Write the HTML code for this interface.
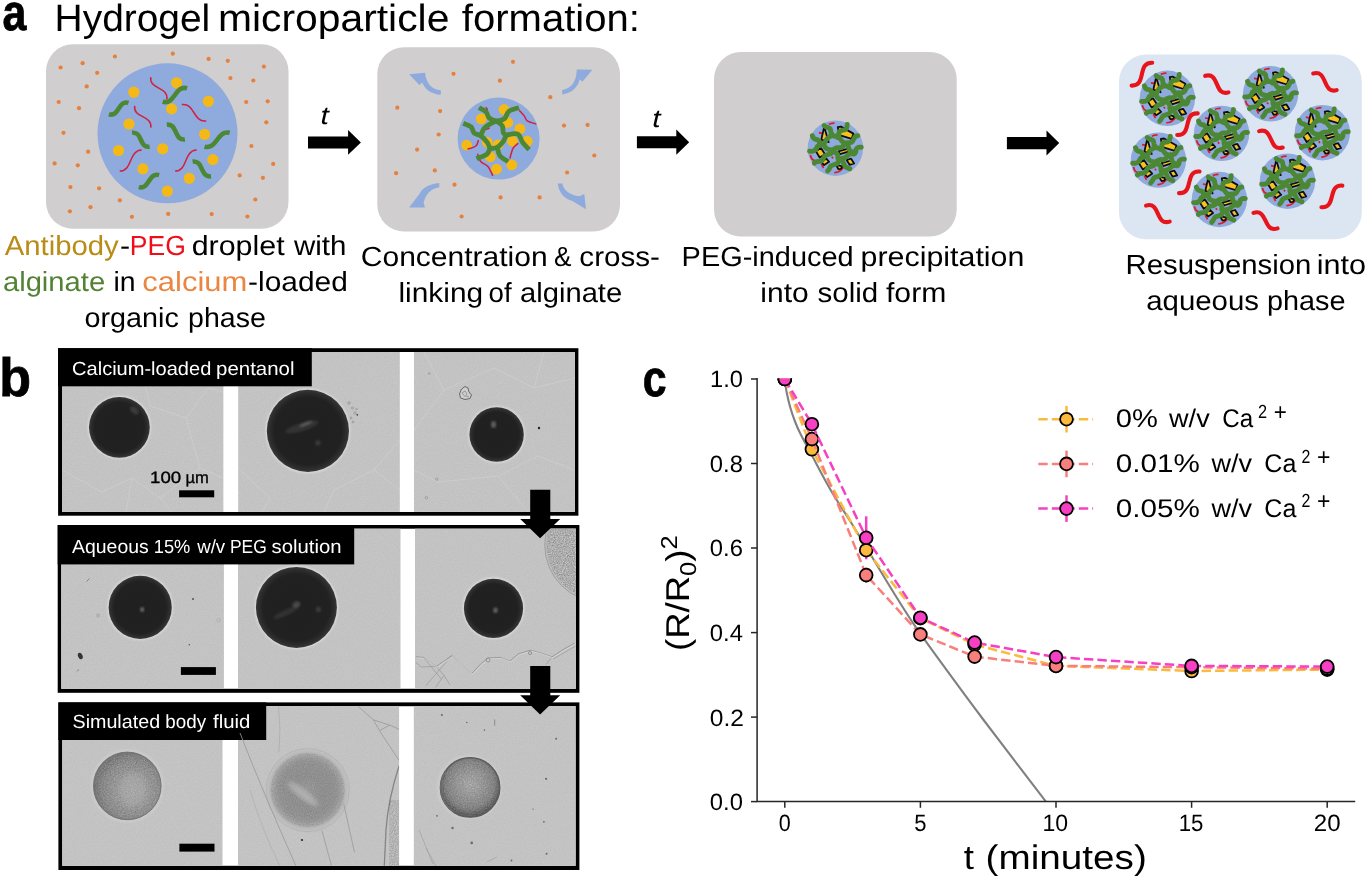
<!DOCTYPE html>
<html><head><meta charset="utf-8"><title>Figure</title>
<style>
html,body{margin:0;padding:0;background:#fff;overflow:hidden}
svg{display:block;opacity:0.999}
text{font-family:"Liberation Sans",sans-serif;white-space:pre;text-rendering:geometricPrecision}
</style></head>
<body>
<svg width="1367" height="878" viewBox="0 0 1367 878">
<defs>
<g id="particle">
<circle cx="0" cy="0" r="27.7" fill="#8faadc"/>
<path d="M-6.6,-23.9 C-6.1,-24.1 -4.5,-24.7 -3.6,-24.9 C-2.7,-25.1 -1.4,-25.1 -0.9,-25.1" fill="none" stroke="#e0192b" stroke-width="1.7"/>
<path d="M-16.5,-15.5 L-13.3,-14.9" fill="none" stroke="#e0192b" stroke-width="1.7"/>
<path d="M-25.1,6.9 C-24.8,7.6 -24.3,9.8 -23.3,10.9 C-22.3,12.0 -19.7,12.9 -19.0,13.3" fill="none" stroke="#e0192b" stroke-width="1.7"/>
<path d="M-14.1,15.7 L-11.9,19.8" fill="none" stroke="#e0192b" stroke-width="1.7"/>
<path d="M-1.1,24.6 C-0.3,24.4 2.4,24.0 4.0,23.1 C5.6,22.2 7.8,19.7 8.5,19.0" fill="none" stroke="#e0192b" stroke-width="1.7"/>
<path d="M-3.6,8.7 L-2.4,10.2" fill="none" stroke="#e0192b" stroke-width="1.7"/>
<polygon points="-11.2,-21.3 -14.1,-8.6 -6.8,-6.1" fill="#f7c21c" stroke="#0d0d1a" stroke-width="1.8" stroke-linejoin="round"/>
<polygon points="2.4,-21.1 5.6,-21.6 18.0,-14.6 16.3,-9.3 4.0,-13.0" fill="#f7c21c" stroke="#0d0d1a" stroke-width="1.8" stroke-linejoin="round"/>
<polygon points="-19.5,3.1 -14.5,-0.1 -10.4,6.0 -15.7,9.3" fill="#f7c21c" stroke="#0d0d1a" stroke-width="1.8" stroke-linejoin="round"/>
<polygon points="3.0,3.1 12.9,0.4 13.8,3.1 4.6,6.0" fill="#f7c21c" stroke="#0d0d1a" stroke-width="1.8" stroke-linejoin="round"/>
<polygon points="-14.4,13.3 -9.1,10.5 -6.3,13.6 -11.3,16.9" fill="#f7c21c" stroke="#0d0d1a" stroke-width="1.8" stroke-linejoin="round"/>
<polygon points="11.2,11.8 15.7,10.5 18.7,15.3 14.2,16.6" fill="#f7c21c" stroke="#0d0d1a" stroke-width="1.8" stroke-linejoin="round"/>
<polygon points="0.5,16.6 7.1,18.1 5.6,20.6 3.1,21.0" fill="#f7c21c" stroke="#0d0d1a" stroke-width="1.8" stroke-linejoin="round"/>
<path d="M-23.0,-12.4 C-22.8,-12.0 -22.4,-10.8 -21.9,-10.2 C-21.4,-9.6 -20.8,-9.2 -20.1,-8.9 C-19.4,-8.6 -18.3,-8.7 -17.6,-8.2 C-16.9,-7.7 -16.1,-6.8 -15.8,-5.9 C-15.5,-5.0 -15.2,-3.7 -15.6,-3.0 C-16.0,-2.3 -17.5,-2.3 -18.1,-1.7 C-18.7,-1.1 -18.8,0.1 -19.3,0.8 C-19.8,1.5 -20.5,2.1 -21.2,2.5 C-21.9,2.9 -22.7,3.0 -23.5,3.1 C-24.3,3.2 -25.5,3.1 -25.9,3.1" fill="none" stroke="#4c8733" stroke-width="4.9" stroke-linecap="round" stroke-linejoin="round"/>
<path d="M-11.3,-22.6 C-11.0,-22.4 -10.2,-21.7 -9.6,-21.4 C-9.0,-21.1 -8.2,-20.9 -7.5,-20.6 C-6.8,-20.3 -5.8,-20.2 -5.3,-19.5 C-4.8,-18.8 -4.8,-17.6 -4.6,-16.5 C-4.3,-15.4 -4.4,-13.7 -3.8,-13.0 C-3.2,-12.3 -1.9,-12.3 -0.9,-12.1 C0.1,-11.9 1.4,-12.1 2.3,-11.7 C3.2,-11.3 3.9,-10.4 4.5,-9.7 C5.2,-9.0 5.6,-8.0 6.2,-7.4 C6.8,-6.8 7.2,-6.3 7.9,-5.9 C8.6,-5.5 9.4,-5.3 10.1,-4.9 C10.8,-4.5 11.6,-4.2 12.1,-3.6 C12.6,-3.0 12.7,-2.2 13.0,-1.4 C13.3,-0.6 13.3,0.3 13.7,1.0 C14.0,1.7 14.5,2.3 15.1,2.8 C15.7,3.2 16.5,3.3 17.1,3.7 C17.7,4.1 18.4,4.9 18.6,5.1" fill="none" stroke="#4c8733" stroke-width="4.9" stroke-linecap="round" stroke-linejoin="round"/>
<path d="M11.8,-23.8 C11.7,-23.3 11.7,-21.7 11.3,-20.8 C10.9,-19.9 10.2,-18.9 9.5,-18.4 C8.8,-17.9 7.9,-18.2 7.2,-18.0 C6.5,-17.8 5.7,-17.7 5.1,-17.3 C4.5,-16.9 3.8,-16.2 3.5,-15.5 C3.2,-14.8 3.7,-13.6 3.4,-12.8 C3.1,-12.0 2.1,-11.2 1.8,-10.9" fill="none" stroke="#4c8733" stroke-width="4.9" stroke-linecap="round" stroke-linejoin="round"/>
<path d="M-21.1,14.9 C-20.8,14.7 -19.8,13.8 -19.0,13.5 C-18.2,13.2 -17.2,13.4 -16.3,13.2 C-15.4,13.0 -14.3,13.0 -13.6,12.5 C-12.9,12.0 -12.6,11.1 -12.1,10.4 C-11.6,9.7 -11.3,8.7 -10.8,8.1 C-10.3,7.5 -9.6,7.0 -8.9,6.7 C-8.2,6.4 -7.3,6.4 -6.5,6.1 C-5.7,5.8 -4.9,5.6 -4.3,5.1 C-3.7,4.6 -3.6,4.0 -3.1,3.3 C-2.6,2.6 -2.0,1.3 -1.2,0.7 C-0.4,0.1 0.7,-0.3 1.6,-0.5 C2.5,-0.7 3.5,-0.3 4.3,-0.4 C5.1,-0.5 5.9,-0.7 6.6,-1.1 C7.3,-1.5 7.9,-2.4 8.4,-3.0 C9.0,-3.6 9.3,-4.3 9.9,-4.7 C10.5,-5.1 11.2,-5.4 11.9,-5.5 C12.7,-5.6 13.6,-5.3 14.4,-5.5 C15.2,-5.7 16.3,-6.1 17.0,-6.8 C17.7,-7.5 18.0,-8.6 18.5,-9.4 C19.0,-10.2 19.2,-11.2 19.9,-11.7 C20.5,-12.2 22.0,-12.4 22.4,-12.5" fill="none" stroke="#4c8733" stroke-width="4.9" stroke-linecap="round" stroke-linejoin="round"/>
<path d="M-16.1,-3.6 C-15.7,-3.7 -14.6,-4.1 -13.8,-4.3 C-13.1,-4.5 -12.2,-4.6 -11.6,-5.0 C-11.0,-5.4 -10.7,-5.8 -10.2,-6.5 C-9.7,-7.2 -9.2,-8.4 -8.7,-9.1 C-8.1,-9.8 -7.6,-10.3 -6.9,-10.8 C-6.2,-11.3 -5.3,-11.5 -4.7,-12.0 C-4.1,-12.5 -3.5,-13.5 -3.3,-13.8" fill="none" stroke="#4c8733" stroke-width="4.9" stroke-linecap="round" stroke-linejoin="round"/>
<path d="M25.9,-0.9 C25.4,-0.9 24.0,-1.2 23.1,-0.9 C22.2,-0.6 21.1,0.2 20.7,0.9 C20.3,1.6 20.8,2.6 20.5,3.4 C20.2,4.2 19.5,5.4 18.8,5.7 C18.1,6.0 17.2,5.5 16.5,5.5 C15.8,5.5 15.1,5.5 14.4,5.7 C13.8,5.9 13.2,6.4 12.6,6.9 C12.0,7.4 11.4,8.2 10.8,8.7 C10.2,9.2 9.7,9.4 8.9,9.7 C8.1,10.0 7.0,10.0 6.2,10.3 C5.4,10.6 4.4,11.5 4.0,11.7" fill="none" stroke="#4c8733" stroke-width="4.9" stroke-linecap="round" stroke-linejoin="round"/>
<path d="M-7.8,22.8 C-7.6,22.5 -6.8,21.7 -6.4,21.1 C-6.0,20.5 -5.7,19.6 -5.3,19.0 C-4.9,18.4 -4.6,17.8 -3.9,17.4 C-3.2,17.0 -2.1,16.8 -1.1,16.4 C-0.2,16.0 1.1,15.8 1.8,15.3 C2.5,14.8 2.6,14.1 2.9,13.5 C3.2,12.9 3.6,12.5 3.5,11.9 C3.4,11.3 2.6,10.6 2.4,9.8 C2.2,9.1 2.7,8.2 2.5,7.4 C2.3,6.6 1.8,5.7 1.2,5.1 C0.6,4.5 -0.2,4.2 -0.9,3.8 C-1.6,3.4 -2.9,3.0 -3.3,2.9" fill="none" stroke="#4c8733" stroke-width="4.9" stroke-linecap="round" stroke-linejoin="round"/>
<path d="M3.8,11.9 C4.2,12.0 5.3,12.3 5.9,12.6 C6.5,12.9 7.2,13.4 7.6,13.9 C8.0,14.4 8.1,15.1 8.5,15.8 C8.9,16.5 9.3,17.6 9.9,18.2 C10.5,18.8 11.2,19.2 12.0,19.6 C12.8,20.0 14.0,20.4 14.4,20.6" fill="none" stroke="#4c8733" stroke-width="4.9" stroke-linecap="round" stroke-linejoin="round"/>
<path d="M-15.5,-3.7 C-15.1,-3.7 -13.8,-3.8 -13.0,-3.6 C-12.2,-3.4 -11.4,-3.0 -10.9,-2.5 C-10.4,-2.0 -10.4,-1.0 -9.9,-0.5 C-9.4,0.0 -8.7,0.5 -8.0,0.8 C-7.3,1.1 -6.6,1.4 -6.0,1.5 C-5.4,1.6 -5.0,1.4 -4.5,1.6 C-4.0,1.8 -3.5,2.7 -3.3,2.9" fill="none" stroke="#4c8733" stroke-width="4.9" stroke-linecap="round" stroke-linejoin="round"/>
</g>
<filter id="grain" x="0" y="0" width="100%" height="100%">
  <feTurbulence type="fractalNoise" baseFrequency="0.9" numOctaves="2" seed="3" result="n"/>
  <feColorMatrix in="n" type="matrix" values="0 0 0 0 0  0 0 0 0 0  0 0 0 0 0  0.9 0 0 -0.38 0" result="a"/>
  <feFlood flood-color="#000" result="f"/>
  <feComposite in="f" in2="a" operator="in" result="g"/>
  <feComposite in="g" in2="SourceGraphic" operator="in"/>
</filter>
<filter id="grain2" x="0" y="0" width="100%" height="100%">
  <feTurbulence type="fractalNoise" baseFrequency="0.7" numOctaves="3" seed="11" result="n"/>
  <feColorMatrix in="n" type="matrix" values="0 0 0 0 1  0 0 0 0 1  0 0 0 0 1  1.6 0 0 -0.62 0" result="a"/>
  <feComposite in="a" in2="SourceGraphic" operator="in"/>
</filter>
<filter id="blur1"><feGaussianBlur stdDeviation="1"/></filter>
<filter id="blur2"><feGaussianBlur stdDeviation="2.2"/></filter>
<filter id="blur4"><feGaussianBlur stdDeviation="4"/></filter>
<radialGradient id="drop" cx="0.5" cy="0.5" r="0.5">
  <stop offset="0" stop-color="#202020"/><stop offset="0.82" stop-color="#212121"/><stop offset="0.94" stop-color="#2e2e2e"/><stop offset="1" stop-color="#3a3a3a"/>
</radialGradient>
<radialGradient id="fuzzy" cx="0.5" cy="0.5" r="0.5">
  <stop offset="0" stop-color="#a2a2a2"/><stop offset="0.35" stop-color="#979797"/><stop offset="0.72" stop-color="#9a9a9a"/><stop offset="0.9" stop-color="#b0b0b0"/><stop offset="1" stop-color="#c3c3c3" stop-opacity="0"/>
</radialGradient>
<radialGradient id="tex1" cx="0.58" cy="0.56" r="0.55">
  <stop offset="0" stop-color="#a4a4a4"/><stop offset="0.45" stop-color="#989898"/><stop offset="0.8" stop-color="#868686"/><stop offset="1" stop-color="#747474"/>
</radialGradient>
<radialGradient id="tex3" cx="0.5" cy="0.45" r="0.5">
  <stop offset="0" stop-color="#aaaaaa"/><stop offset="0.45" stop-color="#959595"/><stop offset="0.82" stop-color="#7e7e7e"/><stop offset="0.95" stop-color="#646464"/><stop offset="1" stop-color="#5a5a5a"/>
</radialGradient>
<clipPath id="c23"><rect x="415" y="528.7" width="160.8" height="160.1"/></clipPath>

</defs>
<rect width="1367" height="878" fill="#fff"/>
<rect x="46" y="44.3" width="242.5" height="184.5" rx="27" fill="#d0cece"/>
<circle cx="60.6" cy="67.5" r="2.1" fill="#e5813c"/>
<circle cx="82.6" cy="63.2" r="2.1" fill="#e5813c"/>
<circle cx="114.9" cy="56.5" r="2.1" fill="#e5813c"/>
<circle cx="172.8" cy="53.7" r="2.1" fill="#e5813c"/>
<circle cx="208.6" cy="58.9" r="2.1" fill="#e5813c"/>
<circle cx="227.8" cy="60.8" r="2.1" fill="#e5813c"/>
<circle cx="263.9" cy="66.6" r="2.1" fill="#e5813c"/>
<circle cx="97.2" cy="72.8" r="2.1" fill="#e5813c"/>
<circle cx="230.4" cy="78.1" r="2.1" fill="#e5813c"/>
<circle cx="253.3" cy="80.5" r="2.1" fill="#e5813c"/>
<circle cx="86.7" cy="86.4" r="2.1" fill="#e5813c"/>
<circle cx="58.7" cy="102.0" r="2.1" fill="#e5813c"/>
<circle cx="79.0" cy="108.2" r="2.1" fill="#e5813c"/>
<circle cx="246.2" cy="102.0" r="2.1" fill="#e5813c"/>
<circle cx="267.7" cy="101.3" r="2.1" fill="#e5813c"/>
<circle cx="266.3" cy="122.3" r="2.1" fill="#e5813c"/>
<circle cx="63.5" cy="132.8" r="2.1" fill="#e5813c"/>
<circle cx="251.4" cy="146.0" r="2.1" fill="#e5813c"/>
<circle cx="88.1" cy="151.7" r="2.1" fill="#e5813c"/>
<circle cx="54.6" cy="163.4" r="2.1" fill="#e5813c"/>
<circle cx="77.8" cy="165.3" r="2.1" fill="#e5813c"/>
<circle cx="273.2" cy="163.9" r="2.1" fill="#e5813c"/>
<circle cx="239.7" cy="175.4" r="2.1" fill="#e5813c"/>
<circle cx="262.9" cy="177.8" r="2.1" fill="#e5813c"/>
<circle cx="70.4" cy="187.1" r="2.1" fill="#e5813c"/>
<circle cx="99.1" cy="188.3" r="2.1" fill="#e5813c"/>
<circle cx="119.9" cy="200.3" r="2.1" fill="#e5813c"/>
<circle cx="255.3" cy="199.5" r="2.1" fill="#e5813c"/>
<circle cx="90.5" cy="207.2" r="2.1" fill="#e5813c"/>
<circle cx="69.9" cy="211.3" r="2.1" fill="#e5813c"/>
<circle cx="131.9" cy="216.8" r="2.1" fill="#e5813c"/>
<circle cx="168.2" cy="213.9" r="2.1" fill="#e5813c"/>
<circle cx="211.7" cy="214.1" r="2.1" fill="#e5813c"/>
<circle cx="247.4" cy="216.5" r="2.1" fill="#e5813c"/>
<circle cx="167.5" cy="133.3" r="70" fill="#8faadc"/>
<circle cx="176.6" cy="82.8" r="5.6" fill="#f5b917"/>
<circle cx="133.8" cy="92.2" r="5.6" fill="#f5b917"/>
<circle cx="208.4" cy="101.3" r="5.6" fill="#f5b917"/>
<circle cx="171.6" cy="108.9" r="5.6" fill="#f5b917"/>
<circle cx="129.0" cy="124.0" r="5.6" fill="#f5b917"/>
<circle cx="204.6" cy="134.3" r="5.6" fill="#f5b917"/>
<circle cx="118.5" cy="150.5" r="5.6" fill="#f5b917"/>
<circle cx="162.7" cy="148.8" r="5.6" fill="#f5b917"/>
<circle cx="212.9" cy="159.6" r="5.6" fill="#f5b917"/>
<circle cx="142.9" cy="168.9" r="5.6" fill="#f5b917"/>
<circle cx="189.3" cy="178.3" r="5.6" fill="#f5b917"/>
<circle cx="167.3" cy="191.2" r="5.6" fill="#f5b917"/>
<path d="M108.9,114.2 C119.4,117.4 118.0,99.7 128.5,102.9" fill="none" stroke="#4c8733" stroke-width="4.6"/>
<path d="M162.7,101.7 C175.1,105.2 174.7,84.8 187.1,88.3" fill="none" stroke="#4c8733" stroke-width="4.6"/>
<path d="M166.8,124.7 C177.8,123.4 173.9,140.8 184.9,139.5" fill="none" stroke="#4c8733" stroke-width="4.6"/>
<path d="M132.1,132.8 C142.9,131.1 138.8,148.4 149.6,146.7" fill="none" stroke="#4c8733" stroke-width="4.6"/>
<path d="M204.6,146.7 C217.2,150.0 217.1,129.5 229.7,132.8" fill="none" stroke="#4c8733" stroke-width="4.6"/>
<path d="M192.6,161.5 C203.7,160.2 199.9,177.6 211.0,176.3" fill="none" stroke="#4c8733" stroke-width="4.6"/>
<path d="M138.8,187.1 C149.6,190.0 148.3,172.2 159.1,175.1" fill="none" stroke="#4c8733" stroke-width="4.6"/>
<path d="M150.8,77.1 C148.8,89.7 168.8,86.7 166.8,99.3" fill="none" stroke="#d3203f" stroke-width="1.5"/>
<path d="M134.7,105.8 C132.8,118.3 152.7,115.1 150.8,127.6" fill="none" stroke="#d3203f" stroke-width="1.5"/>
<path d="M181.8,104.6 C194.9,102.5 193.1,123.0 206.2,120.9" fill="none" stroke="#d3203f" stroke-width="1.5"/>
<path d="M119.7,171.1 C133.2,170.6 128.2,150.5 141.7,150.0" fill="none" stroke="#d3203f" stroke-width="1.5"/>
<path d="M175.1,171.1 C188.5,170.6 183.3,150.5 196.7,150.0" fill="none" stroke="#d3203f" stroke-width="1.5"/>
<rect x="377.3" y="47.2" width="242.7" height="184.4" rx="27" fill="#d0cece"/>
<circle cx="513.0" cy="61.8" r="2.1" fill="#e5813c"/>
<circle cx="453.5" cy="73.8" r="2.1" fill="#e5813c"/>
<circle cx="499.9" cy="80.7" r="2.1" fill="#e5813c"/>
<circle cx="550.3" cy="97.2" r="2.1" fill="#e5813c"/>
<circle cx="397.3" cy="107.7" r="2.1" fill="#e5813c"/>
<circle cx="440.1" cy="111.1" r="2.1" fill="#e5813c"/>
<circle cx="564.0" cy="125.6" r="2.1" fill="#e5813c"/>
<circle cx="587.6" cy="124.9" r="2.1" fill="#e5813c"/>
<circle cx="438.7" cy="134.5" r="2.1" fill="#e5813c"/>
<circle cx="417.1" cy="149.6" r="2.1" fill="#e5813c"/>
<circle cx="594.3" cy="155.5" r="2.1" fill="#e5813c"/>
<circle cx="434.8" cy="170.4" r="2.1" fill="#e5813c"/>
<circle cx="396.1" cy="173.2" r="2.1" fill="#e5813c"/>
<circle cx="567.1" cy="172.5" r="2.1" fill="#e5813c"/>
<circle cx="454.5" cy="184.7" r="2.1" fill="#e5813c"/>
<circle cx="500.6" cy="197.4" r="2.1" fill="#e5813c"/>
<circle cx="539.6" cy="197.4" r="2.1" fill="#e5813c"/>
<circle cx="461.6" cy="216.5" r="2.1" fill="#e5813c"/>
<path d="M441,90.4 C432.5,89.6 426.4,84.6 425,72.8 L409.1,74.2 L419.4,85 L422.2,82.4 C425.2,89.8 431.6,93.9 440.7,94.8 Z" fill="#8faadc"/>
<path d="M562.2,90 C570.8,88.6 576.4,82.6 576.8,69.5 L592.4,69.8 L582.4,81.8 L579.8,79.2 C577.4,88 571.2,93.2 562.2,94.4 Z" fill="#8faadc"/>
<path d="M439.3,183.1 C429.5,183.8 422.4,188 419.4,194 L409.1,207.6 L425,207.6 L423.6,202.8 C425.6,194.6 430.8,188.4 439.3,187.3 Z" fill="#8faadc"/>
<path d="M557.8,183.4 C558.6,192.6 564.6,198.8 572.4,200.9 L586,209.3 L584.3,193.9 L579.4,196.2 C570,195 563.4,190.3 562.4,183.4 Z" fill="#8faadc"/>
<circle cx="498.6" cy="138.6" r="41" fill="#8faadc"/>
<circle cx="504.0" cy="109.5" r="5.4" fill="#f5b917"/>
<circle cx="481.3" cy="118.9" r="5.4" fill="#f5b917"/>
<circle cx="507.8" cy="122.4" r="5.4" fill="#f5b917"/>
<circle cx="519.9" cy="128.9" r="5.4" fill="#f5b917"/>
<circle cx="466.6" cy="145.2" r="5.4" fill="#f5b917"/>
<circle cx="527.3" cy="141.2" r="5.4" fill="#f5b917"/>
<circle cx="487.3" cy="142.2" r="5.4" fill="#f5b917"/>
<circle cx="498.0" cy="144.8" r="5.4" fill="#f5b917"/>
<circle cx="512.4" cy="141.2" r="5.4" fill="#f5b917"/>
<circle cx="490.3" cy="156.8" r="5.4" fill="#f5b917"/>
<circle cx="511.8" cy="164.9" r="5.4" fill="#f5b917"/>
<circle cx="496.5" cy="169.1" r="5.4" fill="#f5b917"/>
<path d="M519.6,110.7 C520.4,111.6 523.1,114.4 524.4,116.1 C525.7,117.8 525.4,119.6 527.3,120.9 C529.2,122.2 534.3,123.4 535.7,123.9" fill="none" stroke="#d3203f" stroke-width="1.5" stroke-linecap="round"/>
<path d="M468.1,149.0 C469.4,148.5 474.2,147.4 475.9,146.0 C477.6,144.6 477.9,141.5 478.3,140.6" fill="none" stroke="#d3203f" stroke-width="1.5" stroke-linecap="round"/>
<path d="M517.8,143.6 C517.0,144.4 514.3,146.0 513.0,148.4 C511.7,150.8 510.5,156.4 510.0,158.0" fill="none" stroke="#d3203f" stroke-width="1.5" stroke-linecap="round"/>
<path d="M477.7,154.4 C478.2,155.6 479.0,159.6 480.7,161.6 C482.4,163.6 485.9,164.1 487.9,166.4 C489.9,168.7 491.8,173.8 492.6,175.3" fill="none" stroke="#d3203f" stroke-width="1.5" stroke-linecap="round"/>
<path d="M486.1,107.7 L487.3,109.5" fill="none" stroke="#d3203f" stroke-width="1.5" stroke-linecap="round"/>
<path d="M486.1,129.3 L489.1,128.3" fill="none" stroke="#d3203f" stroke-width="1.5" stroke-linecap="round"/>
<path d="M478.9,107.7 C480.1,108.4 484.4,110.2 486.1,111.9 C487.8,113.6 487.4,116.4 489.1,117.9 C490.8,119.4 493.6,120.8 496.2,120.9 C498.8,121.0 502.5,120.1 504.6,118.5 C506.7,116.9 506.4,113.1 508.8,111.3 C511.2,109.5 517.3,108.3 519.0,107.7" fill="none" stroke="#4c8733" stroke-width="4.8" stroke-linejoin="round"/>
<path d="M463.3,123.3 C464.6,123.9 469.3,125.3 471.1,126.9 C472.9,128.5 472.5,131.4 474.1,132.9 C475.7,134.4 478.5,134.2 480.7,135.8 C482.9,137.4 485.7,140.4 487.3,142.4 C488.9,144.4 488.6,147.0 490.3,147.8 C492.0,148.6 495.2,148.3 497.4,147.2 C499.6,146.1 501.8,143.2 503.4,141.2 C505.0,139.2 504.6,136.5 507.0,135.3 C509.4,134.1 515.2,132.9 517.8,134.1 C520.4,135.3 520.7,139.8 522.6,142.4 C524.5,145.0 528.0,148.4 529.1,149.6" fill="none" stroke="#4c8733" stroke-width="4.8" stroke-linejoin="round"/>
<path d="M496.2,120.9 C497.2,121.7 501.0,123.7 502.2,125.7 C503.4,127.7 502.6,131.3 503.4,132.9 C504.2,134.5 506.4,134.9 507.0,135.3" fill="none" stroke="#4c8733" stroke-width="4.8" stroke-linejoin="round"/>
<path d="M480.7,135.8 C481.3,134.5 482.5,130.2 484.3,128.1 C486.1,126.0 489.4,124.5 491.4,123.3 C493.4,122.1 495.4,121.3 496.2,120.9" fill="none" stroke="#4c8733" stroke-width="4.8" stroke-linejoin="round"/>
<path d="M490.3,147.8 C489.7,148.9 489.0,152.6 486.7,154.4 C484.4,156.2 478.2,157.9 476.5,158.6" fill="none" stroke="#4c8733" stroke-width="4.8" stroke-linejoin="round"/>
<path d="M497.4,147.2 C497.8,148.6 498.0,153.2 499.8,155.6 C501.6,158.0 506.8,160.6 508.2,161.6" fill="none" stroke="#4c8733" stroke-width="4.8" stroke-linejoin="round"/>
<rect x="714" y="52" width="242.7" height="184.6" rx="27" fill="#d0cece"/>
<use href="#particle" x="835.4" y="148.2"/>
<rect x="1119" y="54.6" width="242.8" height="184.6" rx="27" fill="#dce5f2"/>
<use href="#particle" x="1167.4" y="98.3"/>
<use href="#particle" x="1270.6" y="93.8"/>
<use href="#particle" x="1221.6" y="133.4"/>
<use href="#particle" x="1322.4" y="132.7"/>
<use href="#particle" x="1158.5" y="160.1"/>
<use href="#particle" x="1287.5" y="181.2"/>
<use href="#particle" x="1219.4" y="199.5"/>
<path d="M1131.6,85.6 C1147.3,86.1 1136.5,62.3 1152.2,62.8" fill="none" stroke="#e8141c" stroke-width="4.1" stroke-linecap="round"/>
<path d="M1205.2,75.8 C1219.9,71.5 1213.8,96.7 1228.5,92.4" fill="none" stroke="#e8141c" stroke-width="4.1" stroke-linecap="round"/>
<path d="M1313.2,73.5 C1327.9,69.2 1322.0,94.4 1336.7,90.1" fill="none" stroke="#e8141c" stroke-width="4.1" stroke-linecap="round"/>
<path d="M1177.2,135.0 C1192.7,136.1 1182.2,112.3 1197.7,113.4" fill="none" stroke="#e8141c" stroke-width="4.1" stroke-linecap="round"/>
<path d="M1259.2,131.1 C1273.8,126.7 1268.1,151.9 1282.7,147.5" fill="none" stroke="#e8141c" stroke-width="4.1" stroke-linecap="round"/>
<path d="M1179.0,193.1 C1194.5,194.2 1184.0,170.4 1199.5,171.5" fill="none" stroke="#e8141c" stroke-width="4.1" stroke-linecap="round"/>
<path d="M1146.0,205.6 C1160.5,200.9 1155.2,226.3 1169.7,221.6" fill="none" stroke="#e8141c" stroke-width="4.1" stroke-linecap="round"/>
<path d="M1253.5,212.9 C1267.9,207.9 1263.1,233.4 1277.5,228.4" fill="none" stroke="#e8141c" stroke-width="4.1" stroke-linecap="round"/>
<path d="M1321.4,207.2 C1336.9,208.4 1326.9,184.4 1342.4,185.6" fill="none" stroke="#e8141c" stroke-width="4.1" stroke-linecap="round"/>
<path d="M308,136.4H348.1V130.1L360.9,142.5L348.1,154.8V148.5H308Z" fill="#000"/>
<path d="M636.9,136.3H676.3V129.6L689.2,142.2L676.3,154.8V148.3H636.9Z" fill="#000"/>
<path d="M1006.9,136.9H1046.5V130.5L1059.2,143.1L1046.5,155.6V149.2H1006.9Z" fill="#000"/>
<text x="2.56" y="30.2" font-size="51" fill="#000" font-weight="bold" font-style="normal" textLength="23.91" lengthAdjust="spacingAndGlyphs" stroke="#000" stroke-width="0.8">a</text>
<text x="54.63" y="31" font-size="38" fill="#000" font-weight="normal" font-style="normal" textLength="155.57" lengthAdjust="spacingAndGlyphs" >Hydrogel</text>
<text x="217.95" y="31" font-size="38" fill="#000" font-weight="normal" font-style="normal" textLength="231.47" lengthAdjust="spacingAndGlyphs" >microparticle</text>
<text x="461.80" y="31" font-size="38" fill="#000" font-weight="normal" font-style="normal" textLength="178.10" lengthAdjust="spacingAndGlyphs" >formation:</text>
<text x="320.40" y="124.3" font-size="25" fill="#000" font-weight="normal" font-style="italic" textLength="8.33" lengthAdjust="spacingAndGlyphs" >t</text>
<text x="652.20" y="126.6" font-size="25" fill="#000" font-weight="normal" font-style="italic" textLength="8.33" lengthAdjust="spacingAndGlyphs" >t</text>
<text x="4.70" y="254.5" font-size="27.6" fill="#b98c17" font-weight="normal" font-style="normal" textLength="114.08" lengthAdjust="spacingAndGlyphs" >Antibody</text>
<text x="120.10" y="254.5" font-size="27.6" fill="#000" font-weight="normal" font-style="normal" textLength="10.11" lengthAdjust="spacingAndGlyphs" >-</text>
<text x="129.78" y="254.5" font-size="27.6" fill="#f00d18" font-weight="normal" font-style="normal" textLength="56.03" lengthAdjust="spacingAndGlyphs" >PEG</text>
<text x="191.70" y="254.5" font-size="27.6" fill="#000" font-weight="normal" font-style="normal" textLength="92.93" lengthAdjust="spacingAndGlyphs" >droplet</text>
<text x="293.97" y="254.5" font-size="27.6" fill="#000" font-weight="normal" font-style="normal" textLength="52.47" lengthAdjust="spacingAndGlyphs" >with</text>
<text x="2.94" y="290.8" font-size="27.6" fill="#548235" font-weight="normal" font-style="normal" textLength="102.22" lengthAdjust="spacingAndGlyphs" >alginate</text>
<text x="113.57" y="290.8" font-size="27.6" fill="#000" font-weight="normal" font-style="normal" textLength="22.12" lengthAdjust="spacingAndGlyphs" >in</text>
<text x="142.38" y="290.8" font-size="27.6" fill="#ea8640" font-weight="normal" font-style="normal" textLength="104.93" lengthAdjust="spacingAndGlyphs" >calcium</text>
<text x="248.12" y="290.8" font-size="27.6" fill="#000" font-weight="normal" font-style="normal" textLength="99.64" lengthAdjust="spacingAndGlyphs" >-loaded</text>
<text x="84.56" y="327.2" font-size="27.6" fill="#000" font-weight="normal" font-style="normal" textLength="94.33" lengthAdjust="spacingAndGlyphs" >organic</text>
<text x="188.07" y="327.2" font-size="27.6" fill="#000" font-weight="normal" font-style="normal" textLength="77.79" lengthAdjust="spacingAndGlyphs" >phase</text>
<text x="360.81" y="265.6" font-size="27.6" fill="#000" font-weight="normal" font-style="normal" textLength="186.85" lengthAdjust="spacingAndGlyphs" >Concentration</text>
<text x="554.10" y="265.6" font-size="27.6" fill="#000" font-weight="normal" font-style="normal" textLength="17.48" lengthAdjust="spacingAndGlyphs" >&amp;</text>
<text x="579.33" y="265.6" font-size="27.6" fill="#000" font-weight="normal" font-style="normal" textLength="80.65" lengthAdjust="spacingAndGlyphs" >cross-</text>
<text x="398.42" y="301.6" font-size="27.6" fill="#000" font-weight="normal" font-style="normal" textLength="84.74" lengthAdjust="spacingAndGlyphs" >linking</text>
<text x="488.60" y="301.6" font-size="27.6" fill="#000" font-weight="normal" font-style="normal" textLength="23.07" lengthAdjust="spacingAndGlyphs" >of</text>
<text x="520.14" y="301.6" font-size="27.6" fill="#000" font-weight="normal" font-style="normal" textLength="102.02" lengthAdjust="spacingAndGlyphs" >alginate</text>
<text x="681.60" y="266.1" font-size="27.6" fill="#000" font-weight="normal" font-style="normal" textLength="172.01" lengthAdjust="spacingAndGlyphs" >PEG-induced</text>
<text x="860.60" y="266.1" font-size="27.6" fill="#000" font-weight="normal" font-style="normal" textLength="163.78" lengthAdjust="spacingAndGlyphs" >precipitation</text>
<text x="760.31" y="302.2" font-size="27.6" fill="#000" font-weight="normal" font-style="normal" textLength="48.36" lengthAdjust="spacingAndGlyphs" >into</text>
<text x="817.50" y="302.2" font-size="27.6" fill="#000" font-weight="normal" font-style="normal" textLength="60.64" lengthAdjust="spacingAndGlyphs" >solid</text>
<text x="886.00" y="302.2" font-size="27.6" fill="#000" font-weight="normal" font-style="normal" textLength="60.28" lengthAdjust="spacingAndGlyphs" >form</text>
<text x="1125.57" y="273.7" font-size="27.6" fill="#000" font-weight="normal" font-style="normal" textLength="185.86" lengthAdjust="spacingAndGlyphs" >Resuspension</text>
<text x="1316.69" y="273.7" font-size="27.6" fill="#000" font-weight="normal" font-style="normal" textLength="49.29" lengthAdjust="spacingAndGlyphs" >into</text>
<text x="1146.23" y="309.8" font-size="27.6" fill="#000" font-weight="normal" font-style="normal" textLength="112.81" lengthAdjust="spacingAndGlyphs" >aqueous</text>
<text x="1266.96" y="309.8" font-size="27.6" fill="#000" font-weight="normal" font-style="normal" textLength="78.51" lengthAdjust="spacingAndGlyphs" >phase</text>
<text x="-0.69" y="396.2" font-size="54" fill="#000" font-weight="bold" font-style="normal" textLength="31.81" lengthAdjust="spacingAndGlyphs" stroke="#000" stroke-width="0.8">b</text>
<rect x="58.1" y="348.2" width="520.3" height="167.5" fill="#000"/>
<rect x="62" y="352" width="512.8" height="159.9" fill="#fff"/>
<rect x="62" y="352" width="161.6" height="159.9" fill="#c7c7c7"/><rect x="62" y="352" width="161.6" height="159.9" fill="#000" filter="url(#grain)" opacity="0.07"/>
<rect x="238.1" y="352" width="161.8" height="159.9" fill="#c7c7c7"/><rect x="238.1" y="352" width="161.8" height="159.9" fill="#000" filter="url(#grain)" opacity="0.07"/>
<rect x="413.8" y="352" width="161.0" height="159.9" fill="#c7c7c7"/><rect x="413.8" y="352" width="161.0" height="159.9" fill="#000" filter="url(#grain)" opacity="0.07"/>
<g fill="none" stroke="#d2d2d2" stroke-width="0.7" opacity="0.8"><path d="M62,470 l40,22 30,-14 28,20 40,-30 23,10"/><path d="M160,498 l12,14 M132,478 l-6,34 M200,468 l-14,-50 22,-30 15,4 M186,418 l-36,-12 -12,-50"/><path d="M240,470 l30,28 -8,14 M400,440 l-26,30 -40,20 -10,22 M374,470 l26,20"/><path d="M414,430 l30,-40 50,-22 40,20 41,-10 M444,390 l-20,-38 M534,388 l10,-36 M414,470 l24,12 60,-6 30,36 M498,476 l40,-20 36,14"/></g>
<rect x="223.6" y="352" width="14.5" height="159.9" fill="#fff"/><rect x="399.9" y="352" width="13.9" height="159.9" fill="#fff"/>
<rect x="58.1" y="348.2" width="253.7" height="38.1" fill="#000"/>
<circle cx="119.4" cy="427.3" r="31.5" fill="#dedede" filter="url(#blur1)"/><circle cx="119.4" cy="427.3" r="30.4" fill="url(#drop)"/><ellipse cx="134.4" cy="410.3" rx="5" ry="3" fill="#9a9a9a" opacity="0.22" transform="rotate(40 134.4 410.3)" filter="url(#blur1)"/>
<circle cx="307.9" cy="430.9" r="42.2" fill="#dedede" filter="url(#blur1)"/><circle cx="307.9" cy="430.9" r="41.1" fill="url(#drop)"/><ellipse cx="301.9" cy="426.9" rx="17" ry="4" fill="#9a9a9a" opacity="0.16" transform="rotate(-17 301.9 426.9)" filter="url(#blur1)"/><ellipse cx="305.9" cy="423.9" rx="7" ry="1.6" fill="#9a9a9a" opacity="0.4" transform="rotate(-22 305.9 423.9)" filter="url(#blur1)"/><ellipse cx="317.9" cy="442.9" rx="2.6" ry="2.6" fill="#9a9a9a" opacity="0.22" transform="rotate(0 317.9 442.9)" filter="url(#blur1)"/>
<circle cx="496.6" cy="434.5" r="28.3" fill="#dedede" filter="url(#blur1)"/><circle cx="496.6" cy="434.5" r="27.2" fill="url(#drop)"/><ellipse cx="493.6" cy="424.5" rx="2.5" ry="3.5" fill="#9a9a9a" opacity="0.5" transform="rotate(0 493.6 424.5)" filter="url(#blur1)"/>
<rect x="179.1" y="490.3" width="35.1" height="7" fill="#000"/>
<text x="150.06" y="482.8" font-size="16.4" fill="#000" font-weight="normal" font-style="normal" textLength="31.07" lengthAdjust="spacingAndGlyphs" stroke="#000" stroke-width="0.35">100</text>
<text x="185.49" y="482.8" font-size="16.4" fill="#000" font-weight="normal" font-style="normal" textLength="23.37" lengthAdjust="spacingAndGlyphs" stroke="#000" stroke-width="0.35">µm</text>
<text x="72.10" y="374.6" font-size="19" fill="#fff" font-weight="normal" font-style="normal" textLength="139.20" lengthAdjust="spacingAndGlyphs" >Calcium-loaded</text>
<text x="216.13" y="374.6" font-size="19" fill="#fff" font-weight="normal" font-style="normal" textLength="78.29" lengthAdjust="spacingAndGlyphs" >pentanol</text>
<g fill="none" stroke="#8a8a8a" stroke-width="0.6"><circle cx="349" cy="403" r="1.3"/><circle cx="352.5" cy="408" r="1.1"/><circle cx="355" cy="413" r="1.2"/><circle cx="351" cy="418" r="1"/><circle cx="356.5" cy="409" r="0.8"/><circle cx="353" cy="422" r="0.9"/></g><circle cx="357.3" cy="414.8" r="0.9" fill="#444"/>
<path d="M459.5,394 l2,-5 3.5,-2.5 3,1.5 1,4 2.5,3 -1.5,3.5 -5,1 -4.5,-1.5z" fill="#cdcdcd" stroke="#5e5e5e" stroke-width="0.9" stroke-linejoin="round"/><path d="M462,393 l3,-2 2,3 -2,2.5z M466,396 l3,1" fill="none" stroke="#777" stroke-width="0.6"/>
<g fill="none" stroke="#8c8c8c" stroke-width="0.6"><circle cx="436.8" cy="479.2" r="1.2"/><circle cx="426.4" cy="497.8" r="1.3"/><circle cx="429.1" cy="373.5" r="0.8"/></g>
<circle cx="539" cy="428" r="1.2" fill="#222"/>
<rect x="57.7" y="525" width="521.7" height="167.8" fill="#000"/>
<rect x="61.3" y="528.7" width="514.5" height="160.1" fill="#fff"/>
<rect x="61.3" y="528.7" width="162.6" height="160.1" fill="#c7c7c7"/><rect x="61.3" y="528.7" width="162.6" height="160.1" fill="#000" filter="url(#grain)" opacity="0.07"/>
<rect x="238" y="528.7" width="162.5" height="160.1" fill="#c7c7c7"/><rect x="238" y="528.7" width="162.5" height="160.1" fill="#000" filter="url(#grain)" opacity="0.07"/>
<rect x="415" y="528.7" width="160.8" height="160.1" fill="#c7c7c7"/><rect x="415" y="528.7" width="160.8" height="160.1" fill="#000" filter="url(#grain)" opacity="0.07"/>
<rect x="57.7" y="525" width="296.5" height="39.4" fill="#000"/>
<circle cx="140.2" cy="607.4" r="32.7" fill="#dedede" filter="url(#blur1)"/><circle cx="140.2" cy="607.4" r="31.6" fill="url(#drop)"/><ellipse cx="142.2" cy="609.4" rx="2" ry="2.5" fill="#9a9a9a" opacity="0.6" transform="rotate(0 142.2 609.4)" filter="url(#blur1)"/>
<circle cx="296.4" cy="607.4" r="41.6" fill="#dedede" filter="url(#blur1)"/><circle cx="296.4" cy="607.4" r="40.5" fill="url(#drop)"/><ellipse cx="296.4" cy="604.4" rx="4" ry="3" fill="#9a9a9a" opacity="0.32" transform="rotate(-20 296.4 604.4)" filter="url(#blur1)"/><ellipse cx="286.4" cy="612.4" rx="14" ry="3" fill="#9a9a9a" opacity="0.14" transform="rotate(-25 286.4 612.4)" filter="url(#blur1)"/><ellipse cx="318.4" cy="609.4" rx="2.5" ry="3" fill="#9a9a9a" opacity="0.22" transform="rotate(0 318.4 609.4)" filter="url(#blur1)"/>
<circle cx="493.5" cy="608.3" r="30.700000000000003" fill="#dedede" filter="url(#blur1)"/><circle cx="493.5" cy="608.3" r="29.6" fill="url(#drop)"/><ellipse cx="495.5" cy="610.3" rx="2.2" ry="2.8" fill="#9a9a9a" opacity="0.55" transform="rotate(0 495.5 610.3)" filter="url(#blur1)"/>
<g clip-path="url(#c23)"><circle cx="602.4" cy="544.9" r="57.7" fill="#bdbdbd" stroke="#a0a0a0" stroke-width="1"/><circle cx="602.4" cy="544.9" r="56" fill="#fff" filter="url(#grain2)" opacity="0.3"/><circle cx="602.4" cy="544.9" r="56" fill="#000" filter="url(#grain)" opacity="0.5"/></g>
<g clip-path="url(#c23)" fill="none" stroke="#909090" stroke-width="0.8"><path d="M415.8,656.8 L423.6,657.4 436.2,666.4 451.8,655.6 471.6,673.6 481.2,663.4 488.4,658 500.4,657.4 510,661 518.4,653.8 530.4,650.2 541.2,653.2 552,656.8 564,649 574.8,643"/><path d="M415.8,662.2 L421.2,667 436.2,666.4 444,675.4 450,685 M444,675.4 L435.6,687.4 M552,656.8 L546,664.6 M575.8,646 L553,659 M423.6,657.4 l18,22 M451.8,655.6 l-26,30" opacity="0.7"/><path d="M416.8,657.8 L424.6,658.4 437.2,667.4 452.8,656.6 472.6,674.6 482.2,664.4 489.4,659 501.4,658.4 511,662 519.4,654.8 531.4,651.2 542.2,654.2 553,657.8 565,650 575.8,644" stroke="#d8d8d8" stroke-width="0.7"/><circle cx="488" cy="660" r="2" stroke="#8a8a8a"/><circle cx="530" cy="653" r="1.6" stroke="#8a8a8a"/></g>
<ellipse cx="80.3" cy="656" rx="2.2" ry="3.4" fill="#333" transform="rotate(-25 80.3 656)"/>
<g stroke="#7c7c7c" stroke-width="0.9" fill="none"><path d="M86.5,581.5 l3,-3"/><path d="M76.8,671.4 l2.2,-2"/><circle cx="218.5" cy="620.4" r="1.8" stroke="#adadad"/></g><circle cx="98" cy="615.6" r="1.6" fill="#9a9a9a" filter="url(#blur1)"/><circle cx="193" cy="599" r="0.9" fill="#444"/><circle cx="189.3" cy="644.8" r="0.8" fill="#555"/>
<rect x="180.9" y="667.1" width="35" height="7.8" fill="#000"/>
<text x="72.00" y="552.9" font-size="19" fill="#fff" font-weight="normal" font-style="normal" textLength="76.71" lengthAdjust="spacingAndGlyphs" >Aqueous</text>
<text x="153.74" y="552.9" font-size="19" fill="#fff" font-weight="normal" font-style="normal" textLength="36.56" lengthAdjust="spacingAndGlyphs" >15%</text>
<text x="197.18" y="552.9" font-size="19" fill="#fff" font-weight="normal" font-style="normal" textLength="28.02" lengthAdjust="spacingAndGlyphs" >w/v</text>
<text x="229.98" y="552.9" font-size="19" fill="#fff" font-weight="normal" font-style="normal" textLength="36.83" lengthAdjust="spacingAndGlyphs" >PEG</text>
<text x="271.50" y="552.9" font-size="19" fill="#fff" font-weight="normal" font-style="normal" textLength="70.11" lengthAdjust="spacingAndGlyphs" >solution</text>
<rect x="58.4" y="702.4" width="521" height="167.6" fill="#000"/>
<rect x="62.3" y="706.2" width="513.3" height="159.6" fill="#fff"/>
<rect x="62.3" y="706.2" width="160.2" height="159.6" fill="#c7c7c7"/><rect x="62.3" y="706.2" width="160.2" height="159.6" fill="#000" filter="url(#grain)" opacity="0.07"/>
<rect x="238" y="706.2" width="161.1" height="159.6" fill="#c7c7c7"/><rect x="238" y="706.2" width="161.1" height="159.6" fill="#000" filter="url(#grain)" opacity="0.07"/>
<rect x="413.8" y="706.2" width="161.8" height="159.6" fill="#c7c7c7"/><rect x="413.8" y="706.2" width="161.8" height="159.6" fill="#000" filter="url(#grain)" opacity="0.07"/>
<rect x="58.4" y="702.4" width="207.8" height="37.6" fill="#000"/>
<circle cx="127.3" cy="785.9" r="35.3" fill="none" stroke="#d0d0d0" stroke-width="1.6" filter="url(#blur1)"/>
<circle cx="127.3" cy="785.9" r="33.8" fill="url(#tex1)" stroke="#6e6e6e" stroke-width="0.9"/>
<circle cx="127.3" cy="785.9" r="32.5" fill="#fff" filter="url(#grain2)" opacity="0.22"/>
<circle cx="127.3" cy="785.9" r="32.5" fill="#000" filter="url(#grain)" opacity="0.25"/>
<ellipse cx="133" cy="790" rx="13" ry="17" fill="#b4b4b4" opacity="0.35" filter="url(#blur2)"/>
<circle cx="307.7" cy="790.1" r="41" fill="url(#fuzzy)" filter="url(#blur2)"/>
<circle cx="307.7" cy="790.1" r="37" fill="#000" filter="url(#grain)" opacity="0.22"/>
<ellipse cx="303" cy="794" rx="19" ry="4.5" fill="#c2c2c2" opacity="0.6" transform="rotate(38 303 794)" filter="url(#blur2)"/>
<circle cx="307.7" cy="790.1" r="41.5" fill="none" stroke="#a8a8a8" stroke-width="0.7" opacity="0.7"/>
<circle cx="469.3" cy="787.4" r="31.2" fill="none" stroke="#d2d2d2" stroke-width="1.4" filter="url(#blur1)"/>
<circle cx="470.1" cy="787.4" r="29.8" fill="url(#tex3)" stroke="#5a5a5a" stroke-width="1.2"/>
<circle cx="470.1" cy="787.4" r="28.6" fill="#fff" filter="url(#grain2)" opacity="0.2"/>
<circle cx="470.1" cy="787.4" r="28.6" fill="#000" filter="url(#grain)" opacity="0.25"/>
<path d="M446,770 a30,30 0 0 0 8,42" fill="none" stroke="#777" stroke-width="0.8"/>
<clipPath id="c32"><rect x="238" y="706.2" width="161.1" height="159.6"/></clipPath>
<g clip-path="url(#c32)" fill="none" stroke="#999" stroke-width="0.8"><path d="M240,733 Q262,790 296,866"/><path d="M278.5,706 Q281,730 279,752" opacity="0.5"/><path d="M358.6,706.8 L373.4,719.8 379.4,730.6 399.1,760.4 M373.4,719.8 L389.7,725.2 399.1,729.2 M379.4,730.6 L389.7,725.2"/><path d="M399.1,765.8 Q388,800 386,830 L384.3,865.9" stroke="#858585" stroke-width="1.3"/><path d="M322,830.7 L331.5,865.9 M343.7,803.7 L354.5,852.4"/><path d="M250,790 Q262,830 280,866" opacity="0.45"/></g>
<rect x="389" y="800" width="10.1" height="65.8" fill="#000" filter="url(#grain)" opacity="0.3"/>
<g fill="#6a6a6a"><circle cx="441.9" cy="714.9" r="1"/><circle cx="466.8" cy="722.5" r="0.8"/><circle cx="484.4" cy="730.1" r="0.8"/><circle cx="556.1" cy="738.7" r="1"/><circle cx="546.1" cy="778.8" r="1.1"/><circle cx="543.9" cy="821.8" r="0.9"/><circle cx="533.1" cy="809.1" r="0.7"/><circle cx="437" cy="815.8" r="0.9"/><circle cx="452.5" cy="828" r="1.2"/><circle cx="471.7" cy="842.9" r="1.3"/><circle cx="546.6" cy="853.7" r="1"/><circle cx="511.5" cy="860.5" r="0.9"/></g><path d="M494.7,719.5 v6" stroke="#777" stroke-width="0.8"/><path d="M419,830 l14,34 M426,848 l10,18 M487,862 l10,-5" fill="none" stroke="#a2a2a2" stroke-width="0.7"/>
<circle cx="302" cy="840" r="1.1" fill="#222"/>
<rect x="179.4" y="843.7" width="35.1" height="7.9" fill="#000"/>
<text x="72.50" y="728.1" font-size="19" fill="#fff" font-weight="normal" font-style="normal" textLength="87.59" lengthAdjust="spacingAndGlyphs" >Simulated</text>
<text x="165.31" y="728.1" font-size="19" fill="#fff" font-weight="normal" font-style="normal" textLength="40.80" lengthAdjust="spacingAndGlyphs" >body</text>
<text x="213.00" y="728.1" font-size="19" fill="#fff" font-weight="normal" font-style="normal" textLength="37.41" lengthAdjust="spacingAndGlyphs" >fluid</text>
<path d="M530.2,489.8 H550.3 V519 H560.2 L540.1,538.3 L520.2,519 H530.2Z" fill="#000"/>
<path d="M530.2,666.0 H550.3 V695.2 H560.2 L540.1,714.5 L520.2,695.2 H530.2Z" fill="#000"/>
<text x="642.72" y="396.0" font-size="51" fill="#000" font-weight="bold" font-style="normal" textLength="23.83" lengthAdjust="spacingAndGlyphs" stroke="#000" stroke-width="0.8">c</text>
<clipPath id="axclip"><rect x="757.1" y="378.6" width="600" height="423"/></clipPath>
<path d="M784.8,379.0 C785.1,381.2 785.7,387.4 786.6,392 C787.5,396.6 788.6,401.6 790,406.5 C791.4,411.4 793.2,416.8 795,421.5 C796.8,426.2 798.0,429.1 800.8,434.6 C803.5,440.1 806.4,445.1 811.5,454.6 C816.6,464.1 825.1,480.5 831.5,491.5 C837.9,502.5 844.4,511.7 850,520.8 C855.6,529.9 858.2,534.2 865.4,546 C872.6,557.8 884.8,578.3 893,591.5 C901.2,604.7 906.9,614.0 914.6,625.4 C922.3,636.8 927.9,644.3 939.4,660.1 C950.9,675.9 965.9,696.4 983.6,720 C1001.4,743.6 1035.5,788.0 1045.9,801.6" fill="none" stroke="#808080" stroke-width="2.1"/>
<g clip-path="url(#axclip)">
<path d="M866.2,567.6 V582.6" stroke="#f97f7c" stroke-width="2.5"/>
<path d="M866.2,516.3 V559.3" stroke="#f63fc2" stroke-width="2.5"/>
<path d="M811.9,420.2 V428.2" stroke="#f63fc2" stroke-width="2.5"/>
<path d="M784.8,379.0 L811.9,449.3 L866.2,550.2 L920.4,618.2 L974.6,644.5 L1056.0,665.9 L1191.6,671.0 L1327.2,669.6" fill="none" stroke="#fbba3d" stroke-width="2.5" stroke-dasharray="9.4 4.1"/>
<circle cx="784.8" cy="379.0" r="6.4" fill="#fbba3d" stroke="#000" stroke-width="1.8"/>
<circle cx="811.9" cy="449.3" r="6.4" fill="#fbba3d" stroke="#000" stroke-width="1.8"/>
<circle cx="866.2" cy="550.2" r="6.4" fill="#fbba3d" stroke="#000" stroke-width="1.8"/>
<circle cx="920.4" cy="618.2" r="6.4" fill="#fbba3d" stroke="#000" stroke-width="1.8"/>
<circle cx="974.6" cy="644.5" r="6.4" fill="#fbba3d" stroke="#000" stroke-width="1.8"/>
<circle cx="1056.0" cy="665.9" r="6.4" fill="#fbba3d" stroke="#000" stroke-width="1.8"/>
<circle cx="1191.6" cy="671.0" r="6.4" fill="#fbba3d" stroke="#000" stroke-width="1.8"/>
<circle cx="1327.2" cy="669.6" r="6.4" fill="#fbba3d" stroke="#000" stroke-width="1.8"/>
<path d="M784.8,379.0 L811.9,439.1 L866.2,575.1 L920.4,634.4 L974.6,656.6 L1056.0,665.9 L1191.6,667.2 L1327.2,668.6" fill="none" stroke="#f97f7c" stroke-width="2.5" stroke-dasharray="9.4 4.1"/>
<circle cx="784.8" cy="379.0" r="6.4" fill="#f97f7c" stroke="#000" stroke-width="1.8"/>
<circle cx="811.9" cy="439.1" r="6.4" fill="#f97f7c" stroke="#000" stroke-width="1.8"/>
<circle cx="866.2" cy="575.1" r="6.4" fill="#f97f7c" stroke="#000" stroke-width="1.8"/>
<circle cx="920.4" cy="634.4" r="6.4" fill="#f97f7c" stroke="#000" stroke-width="1.8"/>
<circle cx="974.6" cy="656.6" r="6.4" fill="#f97f7c" stroke="#000" stroke-width="1.8"/>
<circle cx="1056.0" cy="665.9" r="6.4" fill="#f97f7c" stroke="#000" stroke-width="1.8"/>
<circle cx="1191.6" cy="667.2" r="6.4" fill="#f97f7c" stroke="#000" stroke-width="1.8"/>
<circle cx="1327.2" cy="668.6" r="6.4" fill="#f97f7c" stroke="#000" stroke-width="1.8"/>
<path d="M784.8,379.0 L811.9,424.2 L866.2,537.8 L920.4,617.7 L974.6,642.6 L1056.0,657.1 L1191.6,665.9 L1327.2,666.6" fill="none" stroke="#f63fc2" stroke-width="2.5" stroke-dasharray="9.4 4.1"/>
<circle cx="784.8" cy="379.0" r="6.4" fill="#f63fc2" stroke="#000" stroke-width="1.8"/>
<circle cx="811.9" cy="424.2" r="6.4" fill="#f63fc2" stroke="#000" stroke-width="1.8"/>
<circle cx="866.2" cy="537.8" r="6.4" fill="#f63fc2" stroke="#000" stroke-width="1.8"/>
<circle cx="920.4" cy="617.7" r="6.4" fill="#f63fc2" stroke="#000" stroke-width="1.8"/>
<circle cx="974.6" cy="642.6" r="6.4" fill="#f63fc2" stroke="#000" stroke-width="1.8"/>
<circle cx="1056.0" cy="657.1" r="6.4" fill="#f63fc2" stroke="#000" stroke-width="1.8"/>
<circle cx="1191.6" cy="665.9" r="6.4" fill="#f63fc2" stroke="#000" stroke-width="1.8"/>
<circle cx="1327.2" cy="666.6" r="6.4" fill="#f63fc2" stroke="#000" stroke-width="1.8"/>
</g>
<path d="M757.1,378 V801.6 H1355.2" fill="none" stroke="#262626" stroke-width="1.5"/>
<path d="M751,801.6 H757.1" stroke="#262626" stroke-width="1.5"/>
<text x="709.80" y="810.0" font-size="23.7" fill="#000" font-weight="normal" font-style="normal" textLength="33.07" lengthAdjust="spacingAndGlyphs" >0.0</text>
<path d="M751,717.1 H757.1" stroke="#262626" stroke-width="1.5"/>
<text x="709.80" y="725.5" font-size="23.7" fill="#000" font-weight="normal" font-style="normal" textLength="34.12" lengthAdjust="spacingAndGlyphs" >0.2</text>
<path d="M751,632.6 H757.1" stroke="#262626" stroke-width="1.5"/>
<text x="709.80" y="641.0" font-size="23.7" fill="#000" font-weight="normal" font-style="normal" textLength="33.07" lengthAdjust="spacingAndGlyphs" >0.4</text>
<path d="M751,548.0 H757.1" stroke="#262626" stroke-width="1.5"/>
<text x="709.80" y="556.4" font-size="23.7" fill="#000" font-weight="normal" font-style="normal" textLength="33.07" lengthAdjust="spacingAndGlyphs" >0.6</text>
<path d="M751,463.5 H757.1" stroke="#262626" stroke-width="1.5"/>
<text x="709.80" y="471.9" font-size="23.7" fill="#000" font-weight="normal" font-style="normal" textLength="33.07" lengthAdjust="spacingAndGlyphs" >0.8</text>
<path d="M751,379.0 H757.1" stroke="#262626" stroke-width="1.5"/>
<text x="710.00" y="387.4" font-size="23.7" fill="#000" font-weight="normal" font-style="normal" textLength="32.87" lengthAdjust="spacingAndGlyphs" >1.0</text>
<path d="M784.8,801.6 V807.8" stroke="#262626" stroke-width="1.5"/>
<text x="778.80" y="831.1" font-size="23.7" fill="#000" font-weight="normal" font-style="normal" textLength="11.96" lengthAdjust="spacingAndGlyphs" >0</text>
<path d="M920.4,801.6 V807.8" stroke="#262626" stroke-width="1.5"/>
<text x="914.30" y="831.1" font-size="23.7" fill="#000" font-weight="normal" font-style="normal" textLength="12.26" lengthAdjust="spacingAndGlyphs" >5</text>
<path d="M1056.0,801.6 V807.8" stroke="#262626" stroke-width="1.5"/>
<text x="1042.43" y="831.1" font-size="23.7" fill="#000" font-weight="normal" font-style="normal" textLength="25.64" lengthAdjust="spacingAndGlyphs" >10</text>
<path d="M1191.6,801.6 V807.8" stroke="#262626" stroke-width="1.5"/>
<text x="1178.66" y="831.1" font-size="23.7" fill="#000" font-weight="normal" font-style="normal" textLength="24.70" lengthAdjust="spacingAndGlyphs" >15</text>
<path d="M1327.2,801.6 V807.8" stroke="#262626" stroke-width="1.5"/>
<text x="1313.78" y="831.1" font-size="23.7" fill="#000" font-weight="normal" font-style="normal" textLength="26.79" lengthAdjust="spacingAndGlyphs" >20</text>
<text x="963.80" y="869.2" font-size="34" fill="#000" font-weight="normal" font-style="normal" textLength="10.20" lengthAdjust="spacingAndGlyphs" >t</text>
<text x="985.52" y="869.2" font-size="34" fill="#000" font-weight="normal" font-style="normal" textLength="161.28" lengthAdjust="spacingAndGlyphs" >(minutes)</text>
<g transform="translate(689,651) rotate(-90)"><text x="0" y="0" font-size="33" textLength="115.6" lengthAdjust="spacingAndGlyphs">(R/R<tspan font-size="23" dy="6.5">0</tspan><tspan dy="-6.5">)</tspan><tspan font-size="23" dy="-12.5">2</tspan></text></g>
<path d="M1038.3,419.2 H1093.1" stroke="#fbba3d" stroke-width="2.5" stroke-dasharray="9.4 4.1"/>
<path d="M1066.5,405.9 V432.5" stroke="#fbba3d" stroke-width="2.5"/>
<circle cx="1066.5" cy="419.2" r="6.4" fill="#fbba3d" stroke="#000" stroke-width="1.8"/>
<text x="1115.86" y="427.1" font-size="25.6" fill="#000" font-weight="normal" font-style="normal" textLength="42.10" lengthAdjust="spacingAndGlyphs" >0%</text>
<text x="1169.06" y="427.1" font-size="25.6" fill="#000" font-weight="normal" font-style="normal" textLength="40.63" lengthAdjust="spacingAndGlyphs" >w/v</text>
<text x="1222.35" y="427.1" font-size="25.6" fill="#000" font-weight="normal" font-style="normal" textLength="30.92" lengthAdjust="spacingAndGlyphs" >Ca</text>
<text x="1257.90" y="417.9" font-size="19" fill="#000" font-weight="normal" font-style="normal" textLength="9.09" lengthAdjust="spacingAndGlyphs" >2</text>
<text x="1273.67" y="419.9" font-size="24" fill="#000" font-weight="normal" font-style="normal" textLength="13.08" lengthAdjust="spacingAndGlyphs" >+</text>
<path d="M1038.3,463.9 H1093.1" stroke="#f97f7c" stroke-width="2.5" stroke-dasharray="9.4 4.1"/>
<path d="M1066.5,450.59999999999997 V477.2" stroke="#f97f7c" stroke-width="2.5"/>
<circle cx="1066.5" cy="463.9" r="6.4" fill="#f97f7c" stroke="#000" stroke-width="1.8"/>
<text x="1115.84" y="471.8" font-size="25.6" fill="#000" font-weight="normal" font-style="normal" textLength="84.03" lengthAdjust="spacingAndGlyphs" >0.01%</text>
<text x="1211.46" y="471.8" font-size="25.6" fill="#000" font-weight="normal" font-style="normal" textLength="40.63" lengthAdjust="spacingAndGlyphs" >w/v</text>
<text x="1264.32" y="471.8" font-size="25.6" fill="#000" font-weight="normal" font-style="normal" textLength="32.03" lengthAdjust="spacingAndGlyphs" >Ca</text>
<text x="1301.40" y="462.6" font-size="19" fill="#000" font-weight="normal" font-style="normal" textLength="8.88" lengthAdjust="spacingAndGlyphs" >2</text>
<text x="1317.04" y="464.6" font-size="24" fill="#000" font-weight="normal" font-style="normal" textLength="13.43" lengthAdjust="spacingAndGlyphs" >+</text>
<path d="M1038.3,508.6 H1093.1" stroke="#f63fc2" stroke-width="2.5" stroke-dasharray="9.4 4.1"/>
<path d="M1066.5,495.3 V521.9" stroke="#f63fc2" stroke-width="2.5"/>
<circle cx="1066.5" cy="508.6" r="6.4" fill="#f63fc2" stroke="#000" stroke-width="1.8"/>
<text x="1115.84" y="516.5" font-size="25.6" fill="#000" font-weight="normal" font-style="normal" textLength="84.03" lengthAdjust="spacingAndGlyphs" >0.05%</text>
<text x="1211.46" y="516.5" font-size="25.6" fill="#000" font-weight="normal" font-style="normal" textLength="40.63" lengthAdjust="spacingAndGlyphs" >w/v</text>
<text x="1264.32" y="516.5" font-size="25.6" fill="#000" font-weight="normal" font-style="normal" textLength="32.03" lengthAdjust="spacingAndGlyphs" >Ca</text>
<text x="1301.40" y="507.3" font-size="19" fill="#000" font-weight="normal" font-style="normal" textLength="8.88" lengthAdjust="spacingAndGlyphs" >2</text>
<text x="1317.04" y="509.3" font-size="24" fill="#000" font-weight="normal" font-style="normal" textLength="13.43" lengthAdjust="spacingAndGlyphs" >+</text>
</svg>
</body></html>
